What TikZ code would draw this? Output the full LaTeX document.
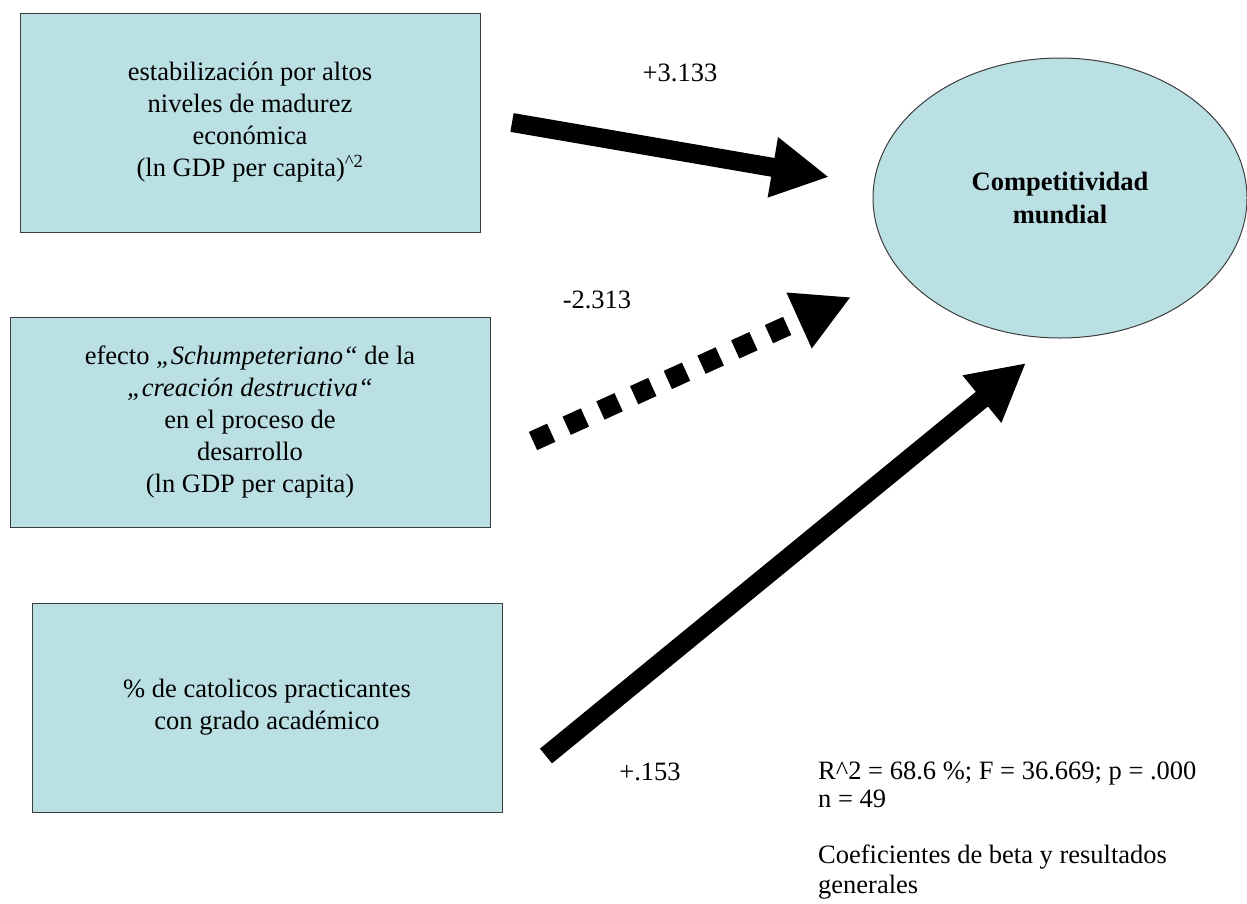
\documentclass[tikz,border=0pt]{standalone}
\usepackage{fontspec}
\setmainfont{Liberation Serif}
\usetikzlibrary{arrows.meta,shapes.geometric}
\definecolor{varfill}{RGB}{187,224,227}
\definecolor{varline}{RGB}{60,60,60}
\begin{document}
\begin{tikzpicture}[x=1pt, y=-1pt, every node/.style={font=\fontsize{26.5}{32}\selectfont},
  var/.style={draw=varline,fill=varfill,line width=1pt,align=center,inner sep=0pt},
  beta/.style={line width=19pt,-{Triangle[length=57pt,width=57pt]}}]
\useasboundingbox (0,0) rectangle (1247,903);
\node[var,minimum width=460pt,minimum height=219pt] (madurez) at (250,122.5) {estabilización por altos\\niveles de madurez\\económica\\(ln GDP per capita)\textsuperscript{\textasciicircum2}};
\node[var,minimum width=480pt,minimum height=210pt] (schump) at (250,422) {efecto \textit{„Schumpeteriano“} de la\\\textit{„creación destructiva“}\\en el proceso de\\desarrollo\\(ln GDP per capita)};
\node[var,minimum width=470pt,minimum height=209pt] (catol) at (267,707.5) {\% de catolicos practicantes\\con grado académico};
\node[var,ellipse,minimum width=374pt,minimum height=280pt,font=\fontsize{26.5}{33}\selectfont\bfseries] (comp) at (1060,198) {Competitividad\\mundial};
% free arrow ends
\coordinate (a1s) at (512,122.5); \coordinate (a1e) at (829,177);
\coordinate (a2s) at (533,441); \coordinate (a2e) at (851,297);
\coordinate (a3s) at (546,756); \coordinate (a3e) at (1026,363);
\draw[beta] (a1s) -- (a1e);
\draw[beta,line width=20pt,dash pattern=on 20pt off 17pt] (a2s) -- (a2e);
\draw[beta] (a3s) -- (a3e);
\node (b1) at (680,73) {+3.133};
\node (b2) at (597,300) {-2.313};
\node (b3) at (650,772) {+.153};
\node[align=left,anchor=north west,inner sep=0pt,font=\fontsize{26.5}{28}\selectfont] (stats) at (818,762) {R\textasciicircum2 = 68.6 \%; F = 36.669; p = .000\\n = 49};
\node[align=left,anchor=north west,inner sep=0pt,font=\fontsize{26.5}{30}\selectfont] (leyenda) at (818,845) {Coeficientes de beta y resultados\\generales};
\end{tikzpicture}
\end{document}
